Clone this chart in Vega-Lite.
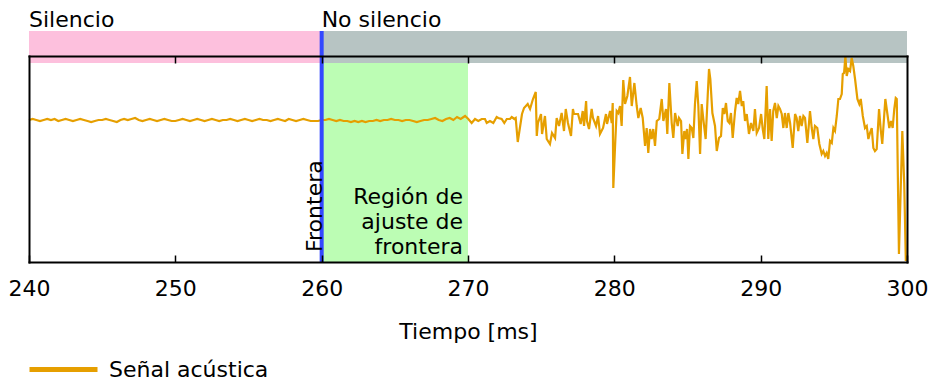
{
  "$schema": "https://vega.github.io/schema/vega-lite/v6.json",
  "width": 878,
  "height": 206,
  "autosize": "none",
  "padding": {"left": 29, "top": 56, "right": 30, "bottom": 119},
  "config": {
    "font": "DejaVu Sans",
    "view": {"stroke": null},
    "axis": {
      "zindex": 1,
      "grid": false,
      "domainColor": "#000000",
      "domainWidth": 2,
      "domainCap": "square",
      "tickColor": "#000000",
      "tickWidth": 1.5,
      "labelColor": "#000000",
      "labelFontSize": 22,
      "titleColor": "#000000",
      "titleFontSize": 22,
      "titleFontWeight": "normal"
    },
    "legend": {"labelColor": "#000000", "labelFontSize": 22}
  },
  "datasets": {
    "zonas": [
      {"zona": "Silencio", "inicio": 240, "fin": 260},
      {"zona": "No silencio", "inicio": 260, "fin": 300}
    ],
    "frontera": [
      {"t": 260, "fin_ajuste": 270}
    ],
    "senal": [
      {"t": 240.00, "a": 0.00}, {"t": 240.25, "a": 0.01}, {"t": 240.50, "a": 0.00}, {"t": 240.75, "a": -0.01},
      {"t": 241.00, "a": 0.00}, {"t": 241.25, "a": 0.01}, {"t": 241.50, "a": 0.00}, {"t": 241.75, "a": 0.01},
      {"t": 242.00, "a": -0.01}, {"t": 242.25, "a": 0.00}, {"t": 242.50, "a": 0.01}, {"t": 242.75, "a": 0.00},
      {"t": 243.00, "a": -0.01}, {"t": 243.25, "a": 0.00}, {"t": 243.50, "a": 0.01}, {"t": 243.75, "a": 0.00},
      {"t": 244.00, "a": -0.01}, {"t": 244.25, "a": -0.02}, {"t": 244.50, "a": -0.01}, {"t": 244.75, "a": 0.00},
      {"t": 245.00, "a": 0.00}, {"t": 245.25, "a": 0.01}, {"t": 245.50, "a": 0.00}, {"t": 245.75, "a": -0.01},
      {"t": 246.00, "a": -0.02}, {"t": 246.25, "a": 0.00}, {"t": 246.50, "a": 0.01}, {"t": 246.75, "a": 0.00},
      {"t": 247.00, "a": 0.01}, {"t": 247.25, "a": 0.02}, {"t": 247.50, "a": 0.00}, {"t": 247.75, "a": -0.01},
      {"t": 248.00, "a": 0.00}, {"t": 248.25, "a": 0.01}, {"t": 248.50, "a": 0.00}, {"t": 248.75, "a": -0.01},
      {"t": 249.00, "a": 0.00}, {"t": 249.25, "a": 0.01}, {"t": 249.50, "a": 0.00}, {"t": 249.75, "a": -0.01},
      {"t": 250.00, "a": -0.01}, {"t": 250.25, "a": 0.00}, {"t": 250.50, "a": 0.01}, {"t": 250.75, "a": 0.00},
      {"t": 251.00, "a": -0.01}, {"t": 251.25, "a": 0.00}, {"t": 251.50, "a": 0.01}, {"t": 251.75, "a": 0.00},
      {"t": 252.00, "a": -0.01}, {"t": 252.25, "a": 0.00}, {"t": 252.50, "a": 0.01}, {"t": 252.75, "a": 0.00},
      {"t": 253.00, "a": -0.01}, {"t": 253.25, "a": 0.00}, {"t": 253.50, "a": 0.00}, {"t": 253.75, "a": 0.01},
      {"t": 254.00, "a": 0.00}, {"t": 254.25, "a": -0.01}, {"t": 254.50, "a": 0.00}, {"t": 254.75, "a": 0.01},
      {"t": 255.00, "a": 0.00}, {"t": 255.25, "a": -0.01}, {"t": 255.50, "a": 0.00}, {"t": 255.75, "a": 0.01},
      {"t": 256.00, "a": 0.00}, {"t": 256.25, "a": 0.00}, {"t": 256.50, "a": -0.01}, {"t": 256.75, "a": 0.00},
      {"t": 257.00, "a": 0.01}, {"t": 257.25, "a": 0.00}, {"t": 257.50, "a": -0.01}, {"t": 257.75, "a": 0.01},
      {"t": 258.00, "a": 0.00}, {"t": 258.25, "a": -0.01}, {"t": 258.50, "a": 0.00}, {"t": 258.75, "a": 0.01},
      {"t": 259.00, "a": 0.00}, {"t": 259.25, "a": -0.01}, {"t": 259.50, "a": -0.01}, {"t": 259.75, "a": -0.01},
      {"t": 260.00, "a": 0.00}, {"t": 260.25, "a": 0.00}, {"t": 260.50, "a": 0.01}, {"t": 260.75, "a": 0.00},
      {"t": 261.00, "a": -0.01}, {"t": 261.25, "a": 0.00}, {"t": 261.50, "a": -0.01}, {"t": 261.75, "a": -0.01},
      {"t": 262.00, "a": -0.02}, {"t": 262.25, "a": -0.01}, {"t": 262.50, "a": -0.02}, {"t": 262.75, "a": -0.01},
      {"t": 263.00, "a": -0.02}, {"t": 263.25, "a": -0.01}, {"t": 263.50, "a": -0.01}, {"t": 263.75, "a": 0.00},
      {"t": 264.00, "a": -0.01}, {"t": 264.25, "a": 0.00}, {"t": 264.50, "a": 0.00}, {"t": 264.75, "a": 0.01},
      {"t": 265.00, "a": 0.00}, {"t": 265.25, "a": 0.00}, {"t": 265.50, "a": -0.01}, {"t": 265.75, "a": 0.00},
      {"t": 266.00, "a": 0.00}, {"t": 266.25, "a": -0.01}, {"t": 266.50, "a": -0.02}, {"t": 266.75, "a": -0.01},
      {"t": 267.00, "a": 0.00}, {"t": 267.25, "a": 0.00}, {"t": 267.50, "a": 0.01}, {"t": 267.75, "a": 0.02},
      {"t": 268.00, "a": 0.00}, {"t": 268.25, "a": -0.01}, {"t": 268.50, "a": 0.01}, {"t": 268.75, "a": 0.02},
      {"t": 269.00, "a": 0.00}, {"t": 269.25, "a": 0.03}, {"t": 269.50, "a": 0.01}, {"t": 269.80, "a": 0.04},
      {"t": 270.02, "a": 0.01}, {"t": 270.25, "a": -0.03}, {"t": 270.48, "a": 0.01}, {"t": 270.70, "a": -0.01},
      {"t": 270.94, "a": 0.01}, {"t": 271.16, "a": 0.01}, {"t": 271.28, "a": -0.03}, {"t": 271.50, "a": -0.01},
      {"t": 271.73, "a": -0.03}, {"t": 271.96, "a": 0.03}, {"t": 272.07, "a": 0.02}, {"t": 272.30, "a": 0.01},
      {"t": 272.48, "a": -0.03}, {"t": 272.65, "a": 0.01}, {"t": 272.87, "a": 0.01}, {"t": 272.99, "a": 0.03},
      {"t": 273.17, "a": 0.01}, {"t": 273.26, "a": 0.02}, {"t": 273.40, "a": -0.22}, {"t": 273.69, "a": 0.06},
      {"t": 273.83, "a": 0.12}, {"t": 274.08, "a": 0.16}, {"t": 274.24, "a": 0.11}, {"t": 274.44, "a": 0.21},
      {"t": 274.63, "a": 0.28}, {"t": 274.70, "a": -0.16}, {"t": 274.78, "a": -0.03}, {"t": 274.99, "a": 0.06},
      {"t": 275.06, "a": -0.14}, {"t": 275.26, "a": 0.04}, {"t": 275.38, "a": -0.19}, {"t": 275.60, "a": -0.24},
      {"t": 275.74, "a": -0.13}, {"t": 275.95, "a": -0.18}, {"t": 276.06, "a": 0.02}, {"t": 276.22, "a": -0.06},
      {"t": 276.40, "a": 0.07}, {"t": 276.56, "a": -0.11}, {"t": 276.68, "a": 0.11}, {"t": 276.83, "a": -0.03},
      {"t": 277.04, "a": -0.16}, {"t": 277.17, "a": 0.11}, {"t": 277.24, "a": 0.06}, {"t": 277.52, "a": 0.06},
      {"t": 277.70, "a": -0.04}, {"t": 277.84, "a": 0.09}, {"t": 277.93, "a": -0.06}, {"t": 278.07, "a": 0.19},
      {"t": 278.13, "a": -0.01}, {"t": 278.27, "a": -0.09}, {"t": 278.45, "a": 0.11}, {"t": 278.54, "a": 0.02},
      {"t": 278.75, "a": -0.06}, {"t": 278.89, "a": 0.04}, {"t": 279.02, "a": -0.14}, {"t": 279.23, "a": -0.08},
      {"t": 279.43, "a": 0.06}, {"t": 279.50, "a": -0.04}, {"t": 279.71, "a": 0.09}, {"t": 279.82, "a": -0.03},
      {"t": 279.89, "a": 0.17}, {"t": 279.93, "a": -0.68}, {"t": 280.05, "a": -0.26}, {"t": 280.16, "a": 0.09},
      {"t": 280.27, "a": 0.07}, {"t": 280.39, "a": 0.14}, {"t": 280.50, "a": -0.06}, {"t": 280.61, "a": 0.40},
      {"t": 280.73, "a": 0.16}, {"t": 280.89, "a": 0.24}, {"t": 281.07, "a": 0.43}, {"t": 281.19, "a": 0.14},
      {"t": 281.37, "a": 0.37}, {"t": 281.53, "a": 0.14}, {"t": 281.64, "a": 0.02}, {"t": 281.80, "a": 0.12},
      {"t": 281.94, "a": 0.02}, {"t": 282.10, "a": -0.26}, {"t": 282.21, "a": -0.08}, {"t": 282.32, "a": -0.33},
      {"t": 282.44, "a": -0.09}, {"t": 282.55, "a": -0.19}, {"t": 282.66, "a": -0.09}, {"t": 282.78, "a": -0.26},
      {"t": 282.90, "a": -0.01}, {"t": 283.07, "a": 0.01}, {"t": 283.24, "a": 0.21}, {"t": 283.35, "a": -0.01},
      {"t": 283.53, "a": 0.11}, {"t": 283.62, "a": -0.14}, {"t": 283.76, "a": 0.37}, {"t": 283.92, "a": -0.03},
      {"t": 284.03, "a": -0.18}, {"t": 284.15, "a": 0.07}, {"t": 284.33, "a": -0.06}, {"t": 284.42, "a": 0.02},
      {"t": 284.56, "a": -0.01}, {"t": 284.65, "a": -0.34}, {"t": 284.78, "a": -0.11}, {"t": 284.88, "a": -0.19},
      {"t": 284.97, "a": -0.09}, {"t": 285.06, "a": -0.39}, {"t": 285.17, "a": -0.06}, {"t": 285.29, "a": -0.08},
      {"t": 285.40, "a": -0.18}, {"t": 285.51, "a": 0.16}, {"t": 285.63, "a": 0.39}, {"t": 285.74, "a": 0.14},
      {"t": 285.86, "a": -0.34}, {"t": 285.97, "a": 0.16}, {"t": 286.08, "a": 0.01}, {"t": 286.24, "a": -0.19},
      {"t": 286.38, "a": 0.24}, {"t": 286.47, "a": 0.51}, {"t": 286.56, "a": 0.41}, {"t": 286.70, "a": 0.07},
      {"t": 286.88, "a": -0.06}, {"t": 287.00, "a": -0.31}, {"t": 287.15, "a": -0.18}, {"t": 287.29, "a": -0.16},
      {"t": 287.41, "a": 0.12}, {"t": 287.52, "a": 0.06}, {"t": 287.63, "a": 0.17}, {"t": 287.75, "a": -0.01},
      {"t": 287.86, "a": -0.03}, {"t": 287.97, "a": 0.07}, {"t": 288.09, "a": -0.18}, {"t": 288.25, "a": 0.09},
      {"t": 288.36, "a": 0.22}, {"t": 288.47, "a": 0.16}, {"t": 288.59, "a": 0.29}, {"t": 288.71, "a": 0.14},
      {"t": 288.81, "a": 0.19}, {"t": 288.93, "a": -0.01}, {"t": 289.05, "a": 0.06}, {"t": 289.20, "a": -0.14},
      {"t": 289.34, "a": -0.03}, {"t": 289.50, "a": -0.11}, {"t": 289.61, "a": 0.11}, {"t": 289.73, "a": -0.13},
      {"t": 289.89, "a": -0.08}, {"t": 290.03, "a": 0.06}, {"t": 290.14, "a": -0.09}, {"t": 290.25, "a": -0.19},
      {"t": 290.41, "a": 0.34}, {"t": 290.52, "a": -0.19}, {"t": 290.64, "a": 0.11}, {"t": 290.75, "a": -0.21},
      {"t": 290.86, "a": 0.09}, {"t": 290.98, "a": 0.17}, {"t": 291.10, "a": 0.02}, {"t": 291.21, "a": 0.14},
      {"t": 291.32, "a": 0.11}, {"t": 291.44, "a": 0.06}, {"t": 291.55, "a": -0.08}, {"t": 291.66, "a": 0.07},
      {"t": 291.78, "a": -0.08}, {"t": 291.89, "a": 0.07}, {"t": 292.01, "a": -0.03}, {"t": 292.19, "a": -0.28},
      {"t": 292.35, "a": 0.06}, {"t": 292.46, "a": 0.02}, {"t": 292.57, "a": -0.11}, {"t": 292.69, "a": 0.04},
      {"t": 292.80, "a": -0.06}, {"t": 292.92, "a": 0.04}, {"t": 293.03, "a": 0.02}, {"t": 293.19, "a": -0.23},
      {"t": 293.37, "a": 0.09}, {"t": 293.49, "a": -0.08}, {"t": 293.60, "a": -0.19}, {"t": 293.71, "a": -0.06},
      {"t": 293.87, "a": -0.08}, {"t": 294.01, "a": -0.24}, {"t": 294.17, "a": -0.34}, {"t": 294.28, "a": -0.31},
      {"t": 294.40, "a": -0.36}, {"t": 294.51, "a": -0.33}, {"t": 294.62, "a": -0.39}, {"t": 294.74, "a": -0.21},
      {"t": 294.86, "a": -0.23}, {"t": 294.97, "a": -0.08}, {"t": 295.08, "a": -0.11}, {"t": 295.20, "a": 0.04},
      {"t": 295.31, "a": 0.21}, {"t": 295.42, "a": 0.21}, {"t": 295.54, "a": 0.26}, {"t": 295.61, "a": 0.46},
      {"t": 295.70, "a": 0.47}, {"t": 295.79, "a": 0.64}, {"t": 295.88, "a": 0.44}, {"t": 295.99, "a": 0.51},
      {"t": 296.11, "a": 0.49}, {"t": 296.22, "a": 0.62}, {"t": 296.33, "a": 0.54}, {"t": 296.45, "a": 0.41},
      {"t": 296.61, "a": 0.21}, {"t": 296.74, "a": 0.16}, {"t": 296.84, "a": 0.21}, {"t": 296.98, "a": 0.04},
      {"t": 297.13, "a": -0.08}, {"t": 297.25, "a": -0.06}, {"t": 297.36, "a": -0.19}, {"t": 297.47, "a": -0.13},
      {"t": 297.59, "a": -0.08}, {"t": 297.70, "a": -0.28}, {"t": 297.81, "a": -0.31}, {"t": 297.93, "a": -0.29},
      {"t": 298.09, "a": 0.11}, {"t": 298.20, "a": -0.09}, {"t": 298.31, "a": -0.24}, {"t": 298.43, "a": 0.02},
      {"t": 298.52, "a": 0.21}, {"t": 298.66, "a": 0.06}, {"t": 298.79, "a": -0.08}, {"t": 298.91, "a": -0.01},
      {"t": 299.02, "a": -0.08}, {"t": 299.13, "a": 0.11}, {"t": 299.23, "a": 0.22}, {"t": 299.30, "a": 0.21},
      {"t": 299.45, "a": -1.34}, {"t": 299.57, "a": -0.69}, {"t": 299.68, "a": -0.11}, {"t": 299.81, "a": -0.63},
      {"t": 299.92, "a": -1.41}
    ]
  },
  "resolve": {"axis": {"x": "independent", "y": "independent"}},
  "layer": [
    {
      "data": {"name": "zonas"},
      "mark": {"type": "rect"},
      "encoding": {
        "x": {"field": "inicio", "type": "quantitative",
              "scale": {"domain": [240, 300], "nice": false, "zero": false},
              "axis": null},
        "x2": {"field": "fin"},
        "y": {"datum": 0.89, "type": "quantitative",
              "scale": {"domain": [-1.42, 0.64], "nice": false, "zero": false},
              "axis": null},
        "y2": {"datum": 0.57},
        "fill": {"field": "zona", "type": "nominal",
                 "scale": {"domain": ["Silencio", "No silencio"], "range": ["#fdc0dd", "#b7c4c3"]},
                 "legend": null}
      }
    },
    {
      "data": {"name": "zonas"},
      "mark": {"type": "text", "align": "left", "baseline": "alphabetic", "fontSize": 22, "color": "#000000"},
      "encoding": {
        "x": {"field": "inicio", "type": "quantitative", "axis": null},
        "y": {"datum": 0.93, "type": "quantitative", "axis": null},
        "text": {"field": "zona"}
      }
    },
    {
      "data": {"name": "frontera"},
      "mark": {"type": "rect", "fill": "#bcfdb4"},
      "encoding": {
        "x": {"field": "t", "type": "quantitative", "axis": null},
        "x2": {"field": "fin_ajuste"},
        "y": {"datum": 0.57, "type": "quantitative", "axis": null},
        "y2": {"datum": -1.42}
      }
    },
    {
      "data": {"name": "senal"},
      "mark": {"type": "line", "strokeWidth": 2.2, "interpolate": "linear"},
      "encoding": {
        "x": {"field": "t", "type": "quantitative",
              "axis": {"orient": "bottom", "title": "Tiempo [ms]", "tickSize": -7, "zindex": 2,
                       "values": [240, 250, 260, 270, 280, 290, 300],
                       "labelFlush": false, "labelPadding": 23, "titlePadding": 22}},
        "y": {"field": "a", "type": "quantitative",
              "axis": {"orient": "right", "ticks": false, "labels": false, "title": null, "zindex": 2}},
        "stroke": {"datum": "Señal acústica", "type": "nominal",
                   "scale": {"range": ["#e69f00"]},
                   "legend": {"orient": "none", "legendX": -2, "legendY": 277, "title": null,
                              "padding": 0, "symbolType": "stroke", "symbolSize": 4624,
                              "symbolStrokeWidth": 5, "labelOffset": 9}}
      }
    },
    {
      "data": {"name": "frontera"},
      "mark": {"type": "rule", "color": "#3348ff", "strokeWidth": 4},
      "encoding": {
        "x": {"field": "t", "type": "quantitative", "axis": null},
        "y": {"datum": 0.89, "type": "quantitative", "axis": null},
        "y2": {"datum": -1.42}
      }
    },
    {
      "data": {"name": "frontera"},
      "mark": {"type": "text", "text": "Frontera", "angle": 270, "align": "left", "baseline": "alphabetic",
               "dx": -4, "fontSize": 22, "color": "#000000"},
      "encoding": {
        "x": {"field": "t", "type": "quantitative",
              "axis": {"orient": "top", "labels": false, "title": null, "tickSize": -7, "zindex": 2,
                       "values": [250, 260, 270, 280, 290]}},
        "y": {"datum": -1.28, "type": "quantitative",
              "axis": {"orient": "left", "ticks": false, "labels": false, "title": null, "zindex": 2}}
      }
    },
    {
      "data": {"name": "frontera"},
      "mark": {"type": "text", "text": ["Región de", "ajuste de", "frontera"], "align": "right",
               "baseline": "alphabetic", "lineHeight": 25, "dx": -5, "fontSize": 22, "color": "#000000"},
      "encoding": {
        "x": {"field": "fin_ajuste", "type": "quantitative", "axis": null},
        "y": {"datum": -0.84, "type": "quantitative", "axis": null}
      }
    }
  ]
}
